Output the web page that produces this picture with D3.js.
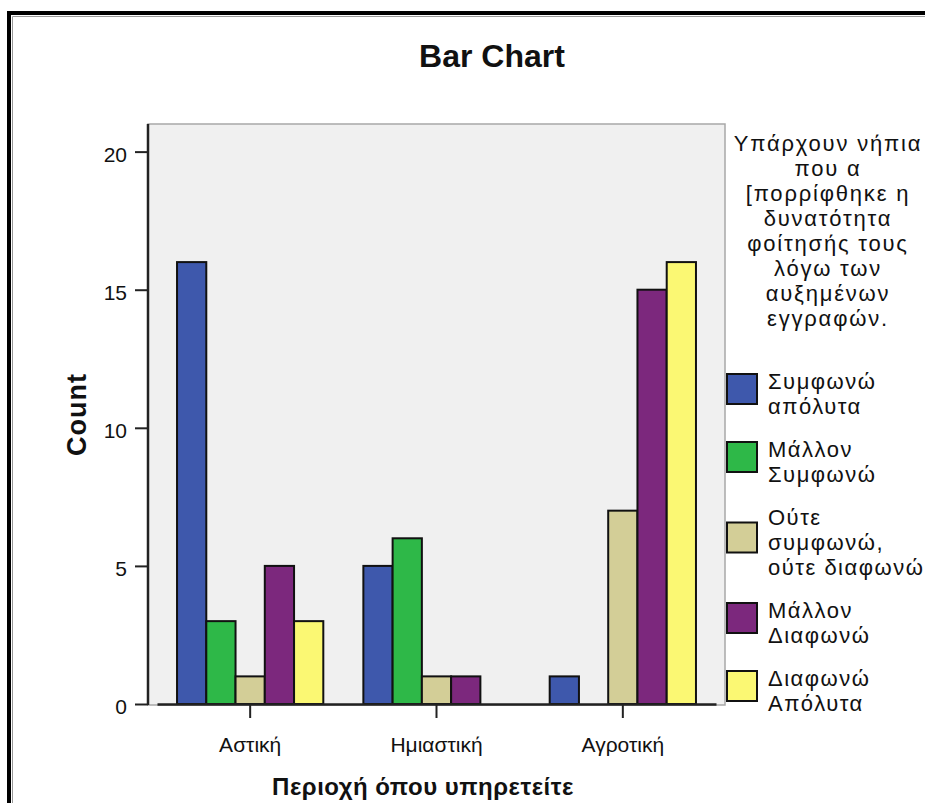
<!DOCTYPE html>
<html>
<head>
<meta charset="utf-8">
<script src="https://cdn.jsdelivr.net/npm/d3@7"></script>
<style>
html, body { margin: 0; padding: 0; background: #fff; overflow: hidden; width: 925px; height: 803px; }
#vis { width: 925px; height: 803px; overflow: hidden; }
svg { display: block; }
svg text { font-family: "Liberation Sans", Arial, sans-serif; fill: #111; }
</style>
</head>
<body>
<div id="vis"></div>
<script>
// data
var categories = ["Αστική", "Ημιαστική", "Αγροτική"];
var symfonoApolyta = [16, 5, 1];
var mallonSymfono = [3, 6, 0];
var outeOute = [1, 1, 7];
var mallonDiafono = [5, 1, 15];
var diafonoApolyta = [3, 0, 16];
var seriesKeys = ["Συμφωνώ απόλυτα", "Μάλλον Συμφωνώ", "Ούτε συμφωνώ, ούτε διαφωνώ", "Μάλλον Διαφωνώ", "Διαφωνώ Απόλυτα"];
var legendLines = [["Συμφωνώ", "απόλυτα"], ["Μάλλον", "Συμφωνώ"], ["Ούτε", "συμφωνώ,", "ούτε διαφωνώ"], ["Μάλλον", "Διαφωνώ"], ["Διαφωνώ", "Απόλυτα"]];
var legendTitle = ["Υπάρχουν νήπια", "που α", "[πορρίφθηκε η", "δυνατότητα", "φοίτησής τους", "λόγω των", "αυξημένων", "εγγραφών."];
var yTicks = [0, 5, 10, 15, 20];

var colors = ["#3e58ac", "#2eb848", "#d3ce97", "#7c287d", "#fbf873"];

var allSeries = [symfonoApolyta, mallonSymfono, outeOute, mallonDiafono, diafonoApolyta];
var data = categories.map(function(c, i) {
  return { cat: c, vals: seriesKeys.map(function(k, j) { return { key: k, value: allSeries[j][i], idx: j }; }) };
});

var W = 925, H = 803;
var plot = { left: 148, top: 124, right: 725, bottom: 705 };

var svg = d3.select("#vis").append("svg")
    .attr("width", W)
    .attr("height", H);

// outer frame, only top and left edges are on the page
svg.append("path")
    .attr("d", "M9," + (H + 10) + "V13H" + (W + 10))
    .attr("fill", "none")
    .attr("stroke", "#000")
    .attr("stroke-width", 4);
svg.append("path")
    .attr("d", "M12.5," + (H + 10) + "V16.5H" + (W + 10))
    .attr("fill", "none")
    .attr("stroke", "#999")
    .attr("stroke-width", 1);

svg.append("text")
    .attr("x", 492).attr("y", 67)
    .attr("text-anchor", "middle")
    .style("font-size", "32px")
    .style("font-weight", "bold")
    .text("Bar Chart");

// plot area
svg.append("rect")
    .attr("x", plot.left).attr("y", plot.top)
    .attr("width", plot.right - plot.left)
    .attr("height", plot.bottom - plot.top)
    .attr("fill", "#f0f0f0")
    .attr("stroke", "#a8a8a8")
    .attr("stroke-width", 1.5);

var y = d3.scaleLinear().domain([0, 21]).range([704, plot.top]);

var x0 = d3.scaleBand()
    .domain(categories)
    .range([157, 716])
    .paddingInner(0.215)
    .paddingOuter(0.1075);

var x1 = d3.scaleBand()
    .domain(seriesKeys)
    .range([0, x0.bandwidth()]);

var color = d3.scaleOrdinal().domain(seriesKeys).range(colors);

// y axis
var yAxis = d3.axisLeft(y).tickValues(yTicks).tickSize(13).tickSizeOuter(0).tickPadding(8);
var gY = svg.append("g")
    .attr("transform", "translate(" + plot.left + ",0)")
    .call(yAxis);
gY.select(".domain").attr("stroke", "#222").attr("stroke-width", 2.5)
    .attr("d", "M0," + plot.top + "V" + plot.bottom);
gY.selectAll(".tick line").attr("stroke", "#222").attr("stroke-width", 2);
gY.selectAll(".tick text")
    .attr("dy", "0.45em")
    .style("font-size", "21px")
    .style("font-family", "Liberation Sans, Arial, sans-serif")
    .attr("fill", "#222");

// bars
var groups = svg.append("g").selectAll(".grp")
    .data(data)
    .enter().append("g")
    .attr("class", "grp")
    .attr("transform", function(d) { return "translate(" + x0(d.cat) + ",0)"; });

groups.selectAll("rect")
    .data(function(d) { return d.vals.filter(function(v) { return v.value > 0; }); })
    .enter().append("rect")
    .attr("x", function(d) { return x1(d.key); })
    .attr("width", x1.bandwidth())
    .attr("y", function(d) { return y(d.value); })
    .attr("height", function(d) { return y(0) - y(d.value); })
    .attr("fill", function(d) { return color(d.key); })
    .attr("stroke", "#111")
    .attr("stroke-width", 2);

// x axis
var xAxis = d3.axisBottom(x0).tickSize(14).tickSizeOuter(0).tickPadding(19);
var gX = svg.append("g")
    .attr("transform", "translate(0,704)")
    .call(xAxis);
gX.select(".domain").attr("stroke", "#222").attr("stroke-width", 2.5);
gX.selectAll(".tick line").attr("stroke", "#222").attr("stroke-width", 2);
gX.selectAll(".tick text")
    .style("font-size", "21px")
    .style("font-family", "Liberation Sans, Arial, sans-serif")
    .attr("fill", "#222");

// axis titles
svg.append("text")
    .attr("transform", "translate(86," + ((plot.top + plot.bottom) / 2) + ") rotate(-90)")
    .attr("text-anchor", "middle")
    .style("font-size", "27px")
    .style("font-weight", "bold")
    .style("letter-spacing", "1px")
    .text("Count");

svg.append("text")
    .attr("x", 423).attr("y", 795)
    .attr("text-anchor", "middle")
    .style("font-size", "24px")
    .style("font-weight", "bold")
    .style("letter-spacing", "0.5px")
    .text("Περιοχή όπου υπηρετείτε");

// legend
var lh = 25;
var legend = svg.append("g").attr("class", "legend");

legend.selectAll(".lt")
    .data(legendTitle)
    .enter().append("text")
    .attr("class", "lt")
    .attr("x", 828)
    .attr("y", function(d, i) { return 151 + i * lh; })
    .attr("text-anchor", "middle")
    .style("font-size", "22px")
    .style("letter-spacing", "1.8px")
    .text(function(d) { return d; });

var by = 389;
legendLines.forEach(function(lines, i) {
  var first = by, last = by + (lines.length - 1) * lh;
  var cy = (first + last) / 2 - lh / 2;
  legend.append("rect")
      .attr("x", 727).attr("y", cy - 15)
      .attr("width", 30).attr("height", 30)
      .attr("fill", colors[i])
      .attr("stroke", "#111")
      .attr("stroke-width", 2);
  lines.forEach(function(t, j) {
    legend.append("text")
        .attr("x", 768)
        .attr("y", first + j * lh)
        .style("font-size", "22px")
        .style("letter-spacing", "1.5px")
        .text(t);
  });
  by = last + lh + 18;
});
</script>
</body>
</html>
